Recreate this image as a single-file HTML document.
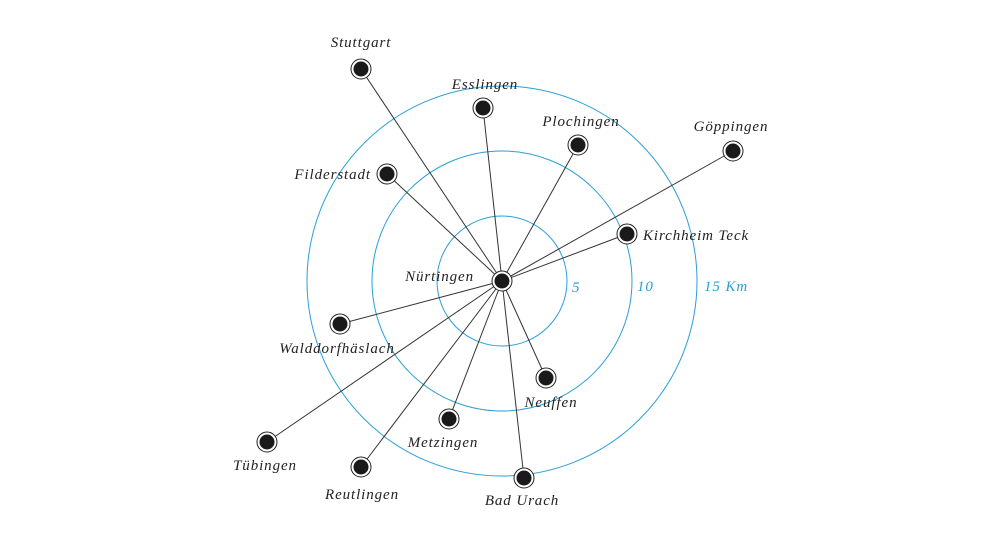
<!DOCTYPE html>
<html><head><meta charset="utf-8"><style>
html,body{margin:0;padding:0;background:#fff}
svg text{font-family:"Liberation Serif","DejaVu Serif",serif;font-style:italic;font-size:15px;fill:#222;letter-spacing:0.9px}
</style></head><body>
<svg width="1003" height="544" viewBox="0 0 1003 544" xmlns="http://www.w3.org/2000/svg">
<g fill="none" stroke="#2a9fd6" stroke-width="1">
<circle cx="502" cy="281" r="65"/>
<circle cx="502" cy="281" r="130"/>
<circle cx="502" cy="281" r="195"/>
</g>
<g stroke="#333" stroke-width="1">
<line x1="502" y1="281" x2="361" y2="69"/>
<line x1="502" y1="281" x2="483" y2="108"/>
<line x1="502" y1="281" x2="578" y2="145"/>
<line x1="502" y1="281" x2="733" y2="151"/>
<line x1="502" y1="281" x2="387" y2="174"/>
<line x1="502" y1="281" x2="627" y2="234"/>
<line x1="502" y1="281" x2="340" y2="324"/>
<line x1="502" y1="281" x2="267" y2="442"/>
<line x1="502" y1="281" x2="361" y2="467"/>
<line x1="502" y1="281" x2="449" y2="419"/>
<line x1="502" y1="281" x2="524" y2="478"/>
<line x1="502" y1="281" x2="546" y2="378"/>
</g>
<g fill="#fff" stroke="#222" stroke-width="1">
<circle cx="502" cy="281" r="10"/><circle cx="361" cy="69" r="10"/><circle cx="483" cy="108" r="10"/><circle cx="578" cy="145" r="10"/><circle cx="733" cy="151" r="10"/><circle cx="387" cy="174" r="10"/><circle cx="627" cy="234" r="10"/><circle cx="340" cy="324" r="10"/><circle cx="267" cy="442" r="10"/><circle cx="361" cy="467" r="10"/><circle cx="449" cy="419" r="10"/><circle cx="524" cy="478" r="10"/><circle cx="546" cy="378" r="10"/>
</g>
<g fill="#1a1a1a">
<circle cx="502" cy="281" r="7.5"/><circle cx="361" cy="69" r="7.5"/><circle cx="483" cy="108" r="7.5"/><circle cx="578" cy="145" r="7.5"/><circle cx="733" cy="151" r="7.5"/><circle cx="387" cy="174" r="7.5"/><circle cx="627" cy="234" r="7.5"/><circle cx="340" cy="324" r="7.5"/><circle cx="267" cy="442" r="7.5"/><circle cx="361" cy="467" r="7.5"/><circle cx="449" cy="419" r="7.5"/><circle cx="524" cy="478" r="7.5"/><circle cx="546" cy="378" r="7.5"/>
</g>
<text x="361" y="47" text-anchor="middle">Stuttgart</text>
<text x="485" y="89" text-anchor="middle">Esslingen</text>
<text x="581" y="126" text-anchor="middle">Plochingen</text>
<text x="731" y="131" text-anchor="middle">Göppingen</text>
<text x="371" y="179" text-anchor="end">Filderstadt</text>
<text x="643" y="240">Kirchheim Teck</text>
<text x="474" y="281" text-anchor="end">Nürtingen</text>
<text x="337" y="353" text-anchor="middle">Walddorfhäslach</text>
<text x="265" y="470" text-anchor="middle">Tübingen</text>
<text x="362" y="499" text-anchor="middle">Reutlingen</text>
<text x="443" y="447" text-anchor="middle">Metzingen</text>
<text x="522" y="505" text-anchor="middle">Bad Urach</text>
<text x="551" y="407" text-anchor="middle">Neuffen</text>
<text x="572" y="292" style="fill:#2a9fd6">5</text>
<text x="637" y="291" style="fill:#2a9fd6">10</text>
<text x="704" y="291" style="fill:#2a9fd6">15 Km</text>
</svg>
</body></html>
